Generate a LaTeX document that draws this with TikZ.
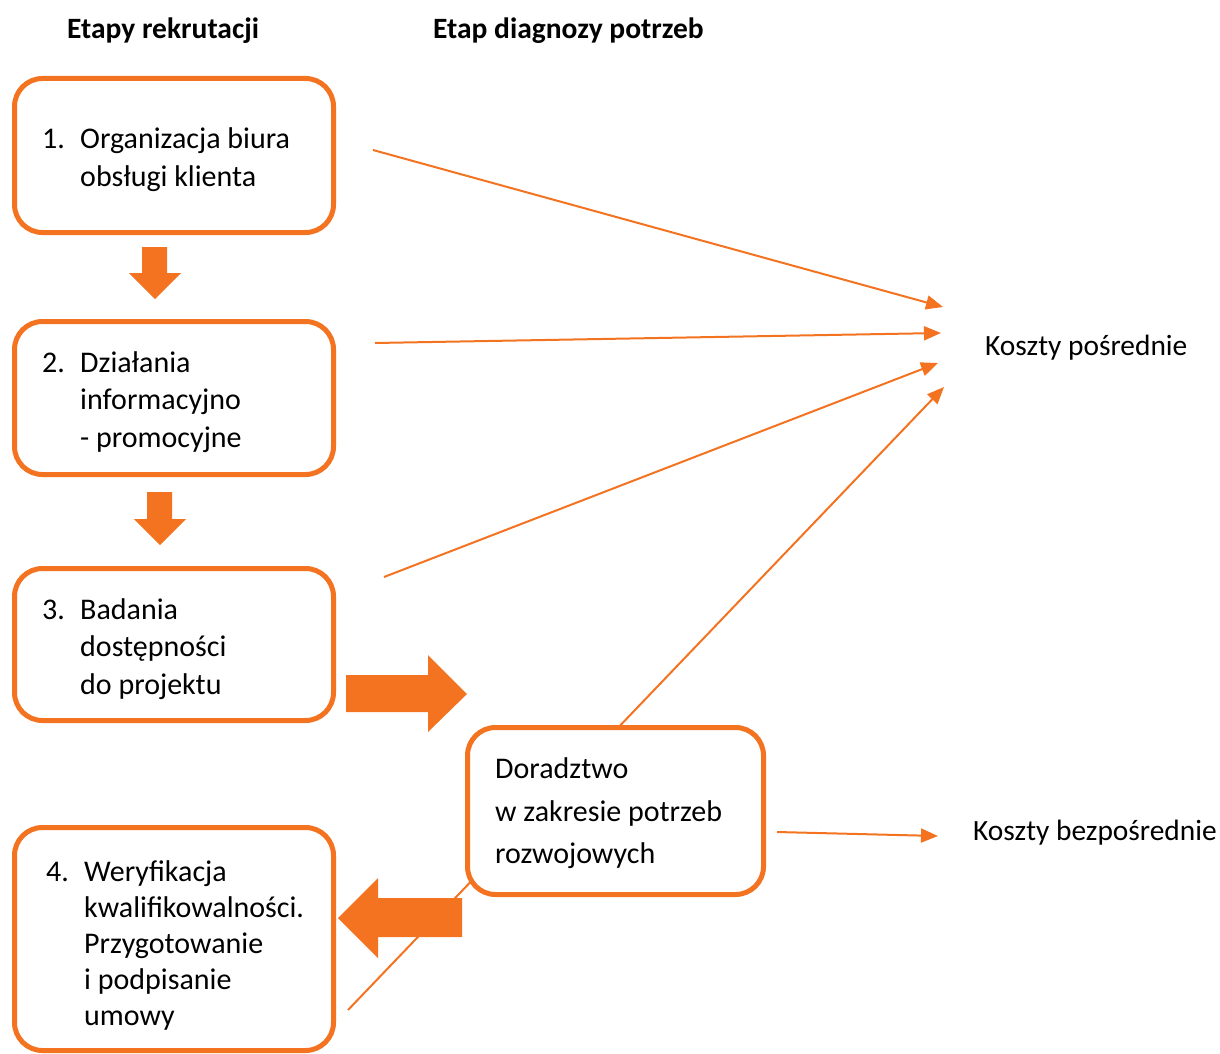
\documentclass[tikz,border=0pt]{standalone}
\usepackage{fontspec}
\setmainfont{Carlito}
\usetikzlibrary{arrows.meta}
\definecolor{orng}{RGB}{243,115,33}
\tikzset{
  box/.style={draw=orng, line width=5pt, rounded corners=28pt, fill=white, inner sep=0pt},
  txt/.style={anchor=base west, inner sep=0pt, font=\fontsize{30}{37.5}\selectfont},
  cost/.style={anchor=base west, inner sep=0pt, font=\fontsize{29.4}{36}\selectfont},
  head/.style={anchor=base west, inner sep=0pt, font=\fontsize{29.5}{34}\selectfont\bfseries},
  thin/.style={draw=orng, line width=2pt, -{Triangle[length=17pt,width=14pt]}},
  fat/.style={fill=orng, draw=none}
}
\begin{document}
\begin{tikzpicture}[x=1pt,y=-1pt]
\useasboundingbox (0,0) rectangle (1220,1054);
% coordinates of free line ends
\coordinate (s1) at (373,150);
\coordinate (s2) at (375,343);
\coordinate (s3) at (384,577);
\coordinate (s4) at (348,1010);
\coordinate (t1) at (943,307);
\coordinate (t2) at (941,333);
\coordinate (t3) at (938,363);
\coordinate (t4) at (944,387);
\coordinate (s5) at (777,832);
\coordinate (t5) at (938,836);
% thin lines (behind boxes)
\draw[thin] (s1) -- (t1);
\draw[thin] (s2) -- (t2);
\draw[thin] (s3) -- (t3);
\draw[thin] (s4) -- (t4);
\draw[thin] (s5) -- (t5);
% headers
\node[head] (h1) at (67,39) {Etapy rekrutacji};
\node[head] (h2) at (433,39) {Etap diagnozy potrzeb};
% boxes
\node[box, minimum width=319pt, minimum height=154pt] (b1) at (174,155.5) {};
\node[box, minimum width=319pt, minimum height=153pt] (b2) at (174,398) {};
\node[box, minimum width=319pt, minimum height=152pt] (b3) at (174,644.5) {};
\node[box, minimum width=319pt, minimum height=223pt] (b4) at (174,939) {};
\node[box, minimum width=296pt, minimum height=167pt] (d) at (615.5,811) {};
% box texts
\node[txt] (n1) at (42,148) {1.};
\node[txt] (b1a) at (80,148) {Organizacja biura};
\node[txt] (b1b) at (80,186) {obsługi klienta};
\node[txt] (n2) at (42,372) {2.};
\node[txt] (b2a) at (80,372) {Działania};
\node[txt] (b2b) at (80,409.5) {informacyjno};
\node[txt] (b2c) at (80,447) {- promocyjne};
\node[txt] (n3) at (42,619) {3.};
\node[txt] (b3a) at (80,619) {Badania};
\node[txt] (b3b) at (80,656.5) {dostępności};
\node[txt] (b3c) at (80,694) {do projektu};
\node[txt] (n4) at (46,881) {4.};
\node[txt] (b4a) at (84,881) {Weryfikacja};
\node[txt] (b4b) at (84,917) {kwalifikowalności.};
\node[txt] (b4c) at (84,953) {Przygotowanie};
\node[txt] (b4d) at (84,989) {i podpisanie};
\node[txt] (b4e) at (84,1025) {umowy};
\node[txt] (da) at (495,778) {Doradztwo};
\node[txt] (db) at (495,821) {w zakresie potrzeb};
\node[txt] (dc) at (495,863) {rozwojowych};
% cost labels
\node[cost] (kp) at (985,355) {Koszty pośrednie};
\node[cost] (kb) at (973,840) {Koszty bezpośrednie};
% block arrows
\fill[fat] (142,247) -- (167,247) -- (167,273) -- (181,273) -- (155,299) -- (129,273) -- (142,273) -- cycle;
\fill[fat] (147,492) -- (172,492) -- (172,519) -- (186,519) -- (160,545) -- (134,519) -- (147,519) -- cycle;
\fill[fat] (346,675) -- (428,675) -- (428,655) -- (467,694) -- (428,732) -- (428,712) -- (346,712) -- cycle;
\fill[fat] (462,898) -- (378,898) -- (378,878) -- (338,918) -- (378,958) -- (378,937) -- (462,937) -- cycle;
\end{tikzpicture}
\end{document}
